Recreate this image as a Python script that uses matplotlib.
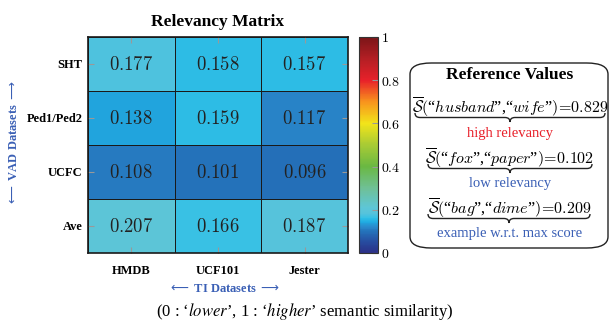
import numpy as np
import matplotlib
matplotlib.use("Agg")
import matplotlib.pyplot as plt
from matplotlib.colors import LinearSegmentedColormap
from matplotlib.patches import FancyBboxPatch, PathPatch
from matplotlib.path import Path

# data
vad = ["SHT", "Ped1/Ped2", "UCFC", "Ave"]
ti = ["HMDB", "UCF101", "Jester"]
scores = np.array([
    [0.177, 0.158, 0.157],
    [0.138, 0.159, 0.117],
    [0.108, 0.101, 0.096],
    [0.207, 0.166, 0.187],
])
cbar_ticks = [0, 0.2, 0.4, 0.6, 0.8, 1]
cbar_labels = ["0", "0.2", "0.4", "0.6", "0.8", "1"]

ref_words = [("husband", "wife"), ("fox", "paper"), ("bag", "dime")]
ref_vals = [0.829, 0.102, 0.209]
ref_notes = ["high relevancy", "low relevancy", "example w.r.t. max score"]
ref_colors = ["#e8202a", "#3a5fb5", "#3a5fb5"]

W, H = 610, 322
BLUE = "#3a5fb5"

cmap = LinearSegmentedColormap.from_list("rel", [
    (0.0, "#2b3087"), (0.05, "#274c9f"), (0.1, "#2474bb"), (0.12, "#2a8acc"),
    (0.14, "#1fa8e0"), (0.16, "#30c0e6"), (0.18, "#55c3dc"), (0.21, "#5ec6d6"),
    (0.3, "#6fc096"), (0.4, "#6ab842"), (0.5, "#a8cb35"), (0.6, "#f2e41a"),
    (0.7, "#f8941d"), (0.8, "#e8212a"), (0.9, "#b41f24"), (1.0, "#7b1518"),
])


def fx(x):
    return x / W


def fy(y):
    return 1 - y / H


fig = plt.figure(figsize=(W / 100, H / 100), dpi=100)
serif = "Liberation Serif"

ax = fig.add_axes([fx(88), fy(253), 260 / W, 216 / H])
mesh = ax.pcolormesh(scores, cmap=cmap, vmin=0, vmax=1, edgecolors="#1a1a1a", linewidth=0.7)
ax.set_xlim(0, 3)
ax.set_ylim(4, 0)
for i in range(len(vad)):
    for j in range(len(ti)):
        ax.text(j + 0.5, i + 0.5, "$%.3f$" % scores[i, j], ha="center", va="center",
                fontsize=13.5, color="#222222", math_fontfamily="cm")
ax.set_xticks(np.arange(3) + 0.5)
ax.set_xticklabels(ti, fontfamily=serif, fontweight="bold", fontsize=9)
ax.set_yticks(np.arange(4) + 0.5)
ax.set_yticklabels(vad, fontfamily=serif, fontweight="bold", fontsize=9)
ax.tick_params(direction="in", length=4, color="#999999", top=True, right=True)
ax.tick_params(axis="x", pad=9)
ax.tick_params(axis="y", pad=4)
for s in ax.spines.values():
    s.set_linewidth(1.2)
    s.set_color("#1a1a1a")

ax.set_title("Relevancy Matrix", fontfamily=serif, fontweight="bold", fontsize=12.5, pad=8)

cax = fig.add_axes([fx(359), fy(253), 19 / W, 216 / H])
cb = fig.colorbar(mesh, cax=cax, ticks=cbar_ticks)
cb.ax.tick_params(direction="in", length=4, color="#999999", labelsize=10, pad=2)
cb.outline.set_edgecolor("#333333")
cb.outline.set_linewidth(0.8)
cb.ax.yaxis.set_major_formatter(matplotlib.ticker.FixedFormatter(["$%s$" % l for l in cbar_labels]))
for t in cb.ax.get_yticklabels():
    t.set_math_fontfamily("cm")

fig.text(fx(14), fy(143), r"$\longleftarrow$ VAD Datasets $\longrightarrow$", rotation=90,
         ha="center", va="center", color=BLUE, fontfamily=serif, fontweight="bold", fontsize=9)
fig.text(fx(224), fy(289), r"$\longleftarrow$ TI Datasets $\longrightarrow$",
         ha="center", va="center", color=BLUE, fontfamily=serif, fontweight="bold", fontsize=9)
fig.text(fx(305), fy(311), "(0 : \u2018$\\it{lower}$\u2019, 1 : \u2018$\\it{higher}$\u2019 semantic similarity)",
         ha="center", va="center", fontfamily=serif, fontsize=12, math_fontfamily="stix")

# reference box
box = FancyBboxPatch((fx(410), fy(248)), fx(608) - fx(410), fy(63) - fy(248),
                     boxstyle="round,pad=0,rounding_size=0.035", transform=fig.transFigure,
                     fill=False, edgecolor="#222222", linewidth=1.0)
fig.patches.append(box)
fig.text(fx(510), fy(75), "Reference Values", ha="center", va="center",
         fontfamily=serif, fontweight="bold", fontsize=12.5)


def brace(x0, x1, y0, y1):
    xm = (x0 + x1) / 2
    ym = (y0 + y1) / 2
    r = 5
    pts = [(x0, y0), (x0, ym), (x0 + r, ym), (x0 + r, ym),
           (xm - r, ym), (xm, ym), (xm, y1), (xm, ym), (xm + r, ym),
           (x1 - r, ym), (x1, ym), (x1, y0)]
    codes = [Path.MOVETO, Path.CURVE3, Path.CURVE3, Path.LINETO,
             Path.LINETO, Path.CURVE3, Path.CURVE3, Path.CURVE3, Path.CURVE3,
             Path.LINETO, Path.CURVE3, Path.CURVE3]
    p = Path([(fx(a), fy(b)) for a, b in pts], codes)
    fig.patches.append(PathPatch(p, transform=fig.transFigure, fill=False,
                                 edgecolor="#222222", linewidth=1.0))


rows_y = [107, 158, 208]
brace_x = [(415, 605), (428, 592), (428, 590)]
for k in range(3):
    a, b = ref_words[k]
    s = (r"$\overline{\mathcal{S}}($" + "\u201c" + r"$\mathit{%s}$" % a + "\u201d,\u201c"
         + r"$\mathit{%s}$" % b + "\u201d" + r"$)\!=\!%.3f$" % ref_vals[k])
    fig.text(fx(510), fy(rows_y[k]), s, ha="center", va="center", fontsize=11.5,
             math_fontfamily="cm", fontfamily=serif)
    brace(brace_x[k][0], brace_x[k][1], rows_y[k] + 6, rows_y[k] + 15)
    fig.text(fx(510), fy(rows_y[k] + 26), ref_notes[k], ha="center", va="center",
             color=ref_colors[k], fontfamily=serif, fontsize=10.5)

fig.savefig("out.png", dpi=100)
